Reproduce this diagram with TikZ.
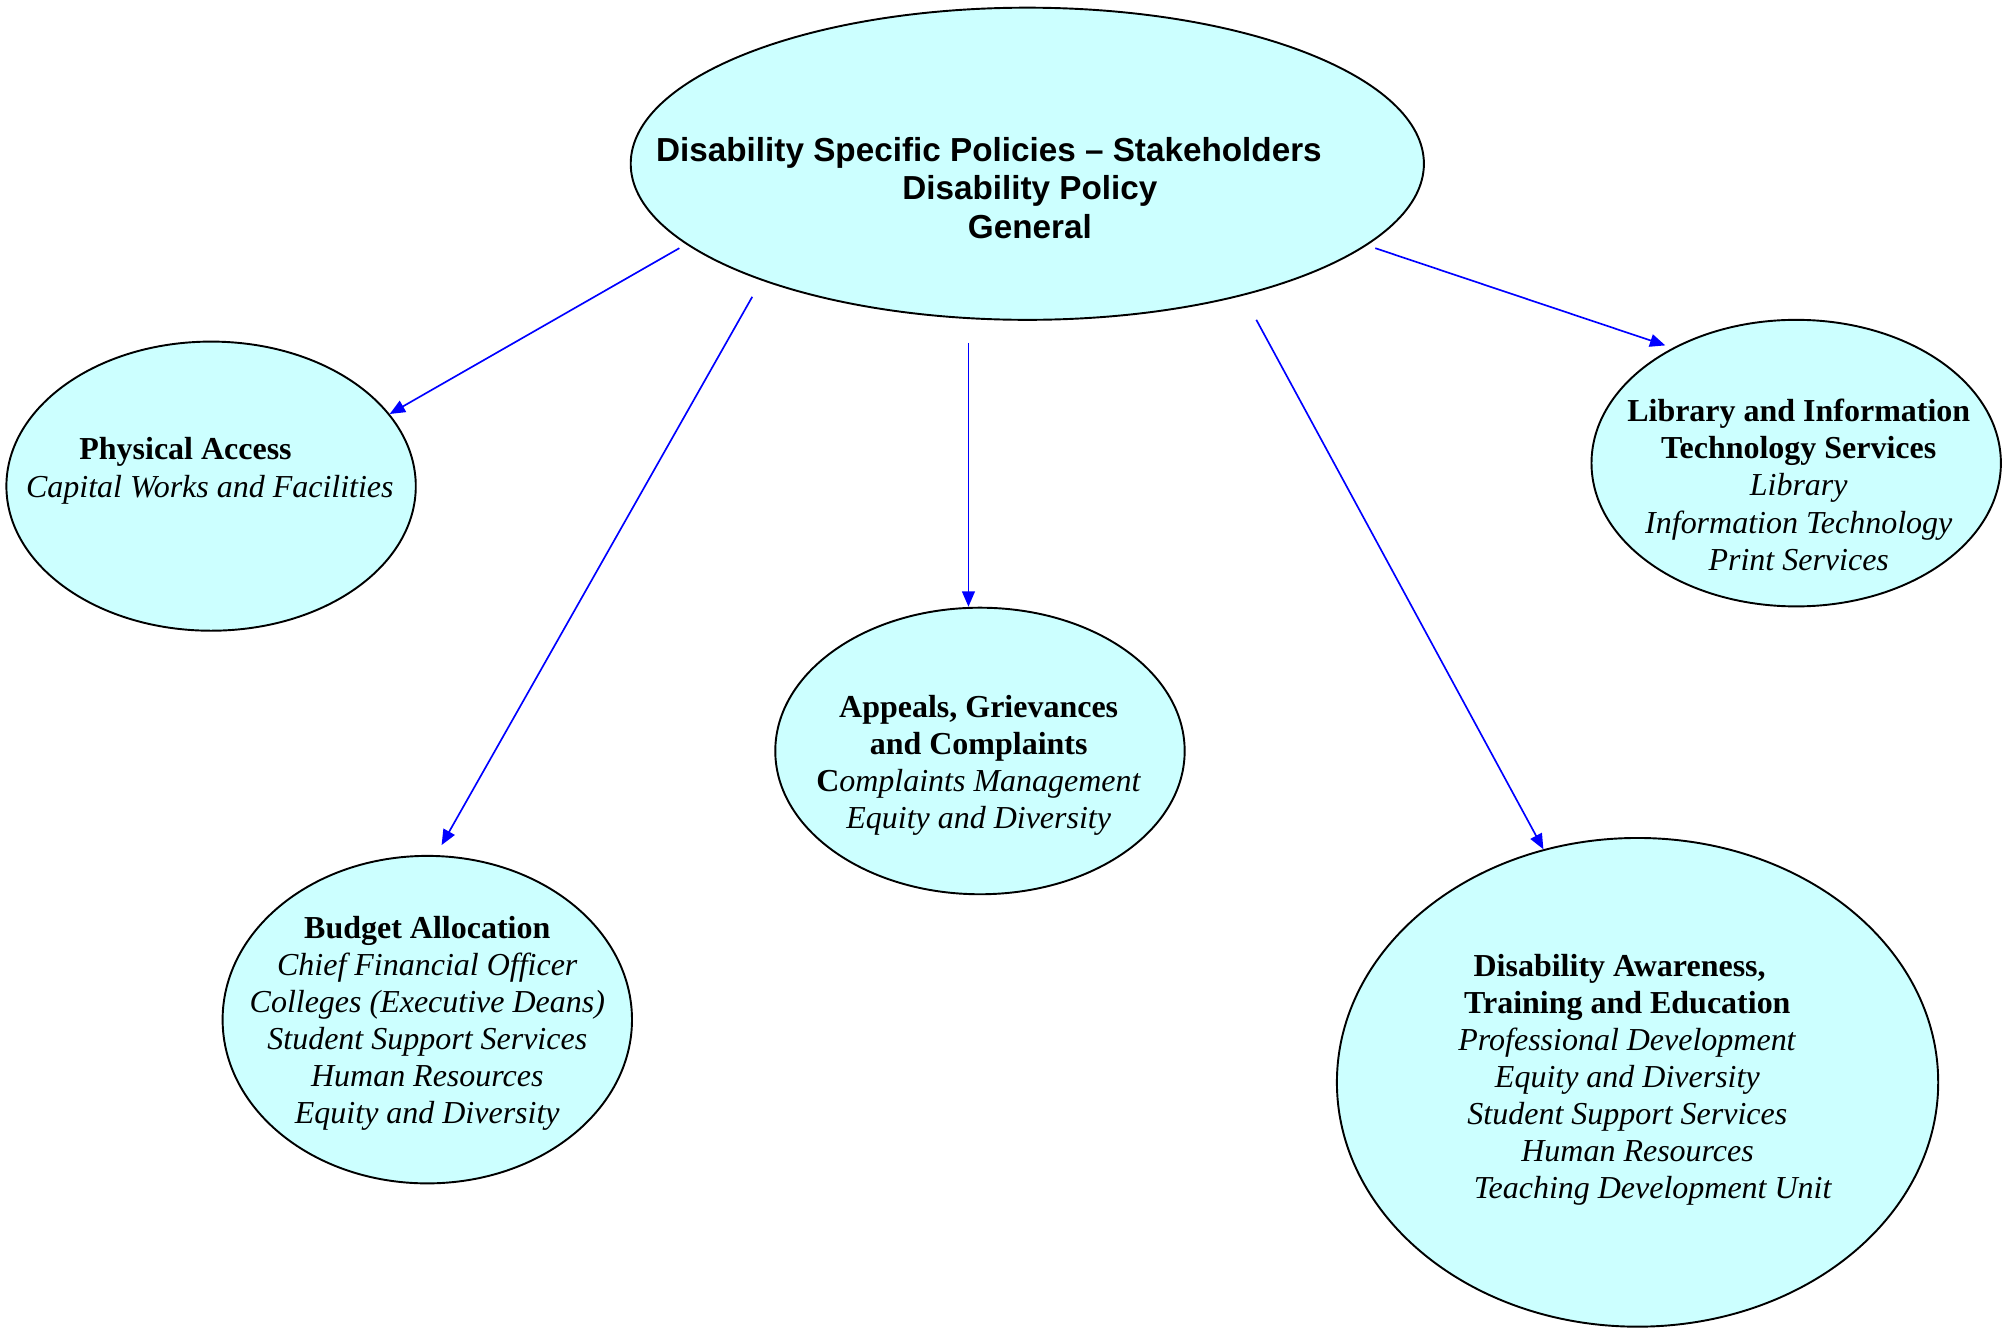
\documentclass[tikz,border=0pt]{standalone}
\usepackage{fontspec}
\setmainfont{Liberation Serif}
\newfontfamily\headfont{Liberation Sans}
\usetikzlibrary{arrows.meta, shapes.geometric, calc}
\definecolor{policy-cyan}{RGB}{204,255,255}
\tikzset{
    my-ellipse/.style={
        ellipse, draw=black, fill=policy-cyan, line width=1.5pt, inner sep=0pt
    },
    my-arrow/.style={
        draw=blue, line width=1.3pt, -{Triangle[length=12pt, width=10pt]}
    },
    my-title/.style={
        align=center, inner sep=0pt, font=\headfont\bfseries\fontsize{26}{30}\selectfont
    },
    my-text/.style={
        align=center, inner sep=0pt, font=\fontsize{25}{29}\selectfont
    },
}

\begin{document}
\begin{tikzpicture}[x=1pt, y=-1pt]

        \useasboundingbox (0, 0) rectangle (1568, 1038);

        % STAKEHOLDERS - TOP ELLIPSE
        \node[my-ellipse, minimum width=620pt, minimum height=244pt] (TOP) at (803, 128) {};
        \node[my-title] (TOPTEXT) at ($(TOP) + (2, 19)$)
            {Disability Specific Policies – Stakeholders\hspace*{64pt}\\ Disability Policy\\ General};

        % STAKEHOLDER ELLIPSES
        \node[my-ellipse, minimum width=320pt, minimum height=226pt] (PHYS)    at ($(TOP) + (-638, 252)$) {};
        \node[my-ellipse, minimum width=320pt, minimum height=256pt] (BUDGET)  at ($(TOP) + (-469, 669)$) {};
        \node[my-ellipse, minimum width=320pt, minimum height=224pt] (APPEALS) at ($(TOP) + (-37, 459)$)  {};
        \node[my-ellipse, minimum width=320pt, minimum height=224pt] (LIB)     at ($(TOP) + (601, 234)$)  {};
        \node[my-ellipse, minimum width=470pt, minimum height=382pt] (AWARE)   at ($(TOP) + (477, 718)$)  {};

        % STAKEHOLDER TEXTS
        \node[my-text] (PHYSTEXT) at ($(PHYS) + (-1, -12)$)
            {\textbf{Physical Access}\hspace*{38pt}\\
             \textit{Capital Works and Facilities}};
        \node[my-text] (BUDGETTEXT) at ($(BUDGET) + (0, 3)$)
            {\textbf{Budget Allocation}\\
             \textit{Chief Financial Officer}\\
             \textit{Colleges (Executive Deans)}\\
             \textit{Student Support Services}\\
             \textit{Human Resources}\\
             \textit{Equity and Diversity}};
        \node[my-text] (APPEALSTEXT) at ($(APPEALS) + (-1, 11)$)
            {\textbf{Appeals, Grievances}\\
             \textbf{and Complaints}\\
             \textbf{C}\textit{omplaints Management}\\
             \textit{Equity and Diversity}};
        \node[my-text] (LIBTEXT) at ($(LIB) + (2, 17)$)
            {\textbf{Library and Information}\\
             \textbf{Technology Services}\\
             \textit{Library}\\
             \textit{Information Technology}\\
             \textit{Print Services}};
        \node[my-text] (AWARETEXT) at ($(AWARE) + (-8, -2)$)
            {\textbf{Disability Awareness,}\hspace*{12pt}\\
             \textbf{Training and Education}\\
             \textit{Professional Development}\\
             \textit{Equity and Diversity}\\
             \textit{Student Support Services}\\
             \hspace*{16pt}\textit{Human Resources}\\
             \hspace*{40pt}\textit{Teaching Development Unit}};

        % ARROW TAILS BELOW THE TOP ELLIPSE
        \coordinate (T1) at ($(TOP) + (-272, 66)$);
        \coordinate (T2) at ($(TOP) + (-215, 104)$);
        \coordinate (T3) at ($(TOP) + (-46, 140)$);
        \coordinate (T4) at ($(TOP) + (179, 122)$);
        \coordinate (T5) at ($(TOP) + (272, 66)$);

        % ARROWS
        \draw[my-arrow]                 (T1) -- (PHYS.22);
        \draw[my-arrow, shorten >=9pt]  (T2) -- (BUDGET.87);
        \draw[my-arrow]                 (T3) -- (T3 |- APPEALS.north);
        \draw[my-arrow]                 (T4) -- (AWARE.112);
        \draw[my-arrow, shorten >=6pt]  (T5) -- (LIB.137);

\end{tikzpicture}
\end{document}
